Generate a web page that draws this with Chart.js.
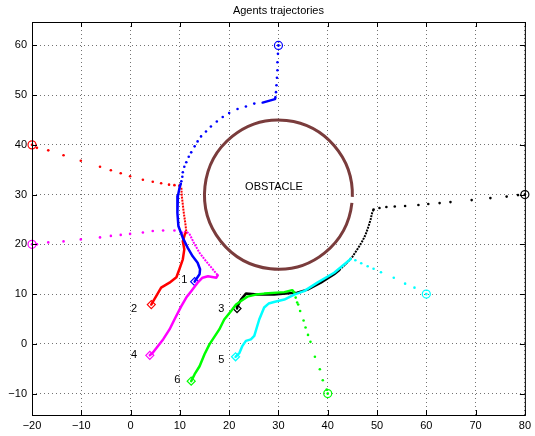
<!DOCTYPE html>
<html>
<head>
<meta charset="utf-8">
<script src="https://cdn.jsdelivr.net/npm/chart.js@4"></script>
<style>
  body { margin: 0; background: #fff; }
  canvas { display: block; }
</style>
</head>
<body>
<canvas id="traj" width="535" height="436"></canvas>
<script>
const xTicks = [-20, -10, 0, 10, 20, 30, 40, 50, 60, 70, 80]
const yTicks = [-10, 0, 10, 20, 30, 40, 50, 60]

const obstacle = { x: 30, y: 30, r: 15 }

// agent labels [x, y, text]
const agentLabels = [[10.9, 12.8, '1'], [0.7, 7.1, '2'], [18.4, 7.1, '3'], [0.7, -2.3, '4'], [18.4, -3.3, '5'], [9.5, -7.3, '6'], [29.1, 31.6, 'OBSTACLE']]

// blue agent (1)
const blueDots = [[30, 60], [29.9, 58.3], [29.8, 56.6], [29.8, 55.0], [29.7, 53.5], [29.6, 52.0], [29.5, 50.6],
  [25.1, 48.3], [23.4, 47.7], [21.7, 47.2], [20.0, 46.4], [18.7, 45.6], [17.5, 44.7], [16.3, 43.7], [15.3, 42.7], [14.3, 41.7],
  [13.6, 40.7], [13.0, 39.7], [12.3, 38.5], [11.8, 37.6], [11.3, 36.5], [10.9, 35.6], [10.6, 34.5], [10.5, 33.6], [10.3, 32.7]]
const blueStep = [[29.4, 49.6], [29.3, 49.2], [26.8, 48.5]]
const bluePath = [[10.2, 32.2], [10.0, 31.7], [9.6, 29.7], [9.5, 26.3], [9.7, 23.7], [10.6, 21.3], [11.6, 19.3], [12.6, 17.6], [13.6, 16.3],
  [14.1, 15.0], [14.0, 14.0], [13.3, 13.0], [13.0, 12.5]]

// red agent (2)
const redDots = [[-20, 40], [-19.0, 39.4], [-16.7, 38.9], [-13.6, 37.9], [-10.1, 36.8], [-6.2, 35.6], [-4.0, 34.9], [-2.0, 34.3], [-0.1, 33.7],
  [2.5, 33.0], [4.5, 32.6], [6.2, 32.3], [7.8, 32.0], [8.9, 31.9], [9.9, 31.8]]
const redDense = [[9.9, 31.8], [10.3, 31.5], [10.4, 29.7], [10.8, 26.3], [11.1, 24.3], [11.3, 22.6]]
const redPath = [[11.2, 22.3], [11.0, 22.0], [10.6, 20.6], [10.9, 19.0], [10.6, 17.0], [9.9, 15.0], [9.3, 13.4], [7.9, 12.3], [6.2, 11.3],
  [5.2, 9.6], [4.6, 8.6], [4.2, 7.9]]

// black agent (3)
const blackDots = [[80, 30], [78.6, 29.9], [76.3, 29.6], [73.0, 29.3], [69.2, 28.9], [64.9, 28.5], [62.7, 28.3], [60.4, 28.1], [58.4, 27.9],
  [55.7, 27.7], [53.6, 27.6], [51.9, 27.5], [50.5, 27.3], [49.3, 27.0]]
const blackDense = [[49.3, 27.0], [49.0, 26.3], [48.7, 25.0], [48.3, 23.7], [47.7, 22.0], [47.0, 20.6], [46.0, 19.0], [45.0, 17.5],
  [43.6, 16.0], [42.3, 14.8]]
const blackPath = [[42.3, 14.8], [41.3, 14.0], [38.6, 12.3], [35.9, 10.9], [33.8, 10.3], [29.1, 9.9], [25.8, 9.9], [23.4, 10.1], [22.4, 8.9],
  [21.7, 7.6], [21.6, 7.1]]

// magenta agent (4)
const magentaDots = [[-20, 20], [-19.0, 20.0], [-16.7, 20.4], [-13.6, 20.6], [-10.1, 21.0], [-6.2, 21.4], [-4.0, 21.7], [-2.0, 21.9],
  [-0.1, 22.1], [2.5, 22.4], [4.5, 22.7], [6.6, 22.8], [8.9, 22.8], [10.3, 22.3]]
const magentaDense = [[10.3, 22.3], [11.3, 22.6], [12.0, 22.0], [13.0, 20.0], [14.0, 18.3], [15.0, 17.0], [16.0, 15.8], [17.0, 14.6], [17.7, 13.8]]
const magentaPath = [[17.7, 13.8], [17.4, 13.3], [15.7, 13.6], [14.6, 13.3], [13.6, 12.3], [12.3, 10.6], [11.3, 9.3], [10.3, 7.6],
  [8.9, 4.9], [7.9, 2.9], [6.6, 0.9], [5.6, -0.4], [4.5, -1.8], [3.9, -2.3]]

// cyan agent (5)
const cyanDots = [[60, 10], [57.6, 11.3], [55.7, 12.1], [53.4, 13.3], [50.8, 14.4], [49.3, 15.1], [48.1, 15.6], [46.8, 16.2], [45.6, 16.8], [44.6, 17.1]]
const cyanPath = [[44.6, 17.0], [41.3, 14.3], [37.9, 12.3], [35.2, 10.6], [33.2, 9.9], [31.2, 8.9], [29.1, 8.4], [28.0, 8.1], [27.1, 7.3],
  [26.1, 4.9], [25.1, 1.6], [24.4, 0.9], [23.4, 0.6], [22.7, -0.4], [22.1, -1.8], [21.3, -2.6]]

// green agent (6)
const greenDots = [[40, -10], [39.8, -9.2], [39.0, -7.3], [38.4, -5.1], [37.4, -2.6], [36.5, 0.4], [36.0, 1.8], [35.5, 3.3], [35.1, 4.7],
  [34.4, 6.6], [34.0, 7.9], [33.8, 8.3], [33.5, 9.3]]
const greenPath = [[33.3, 10.2], [32.8, 10.8], [31.2, 10.4], [27.1, 10.1], [25.4, 9.9], [23.7, 9.5], [22.4, 8.6], [21.4, 7.9], [20.4, 6.6],
  [19.0, 4.9], [18.0, 2.9], [16.0, -0.1], [15.0, -2.1], [14.0, -4.5], [13.0, -6.1], [12.3, -7.5]]

const pts = a => a.map(p => ({ x: p[0], y: p[1] }))

function dots(data, color) {
  return { type: 'scatter', data: pts(data), showLine: false, pointRadius: 1.3, pointBorderWidth: 0,
    pointBackgroundColor: color, pointHoverRadius: 0 }
}
function dense(data, color) {
  return { type: 'line', data: pts(data), borderColor: color, borderWidth: 2, borderDash: [2, 1],
    pointRadius: 0, tension: 0, fill: false }
}
function solid(data, color) {
  return { type: 'line', data: pts(data), borderColor: color, borderWidth: 2.5,
    pointRadius: 0, tension: 0, fill: false, borderJoinStyle: 'round', borderCapStyle: 'round' }
}
function startMark(data, color) {
  return { type: 'scatter', data: pts([data[0], data[0]]), showLine: false, pointStyle: 'circle',
    pointRadius: [4, 1], pointBorderWidth: [1.2, 0], pointBorderColor: color, pointBackgroundColor: ['rgba(0,0,0,0)', color] }
}
function endMark(data, color) {
  return { type: 'scatter', data: pts([data[data.length - 1]]), showLine: false, pointStyle: 'rectRot',
    pointRadius: 4, pointBorderWidth: 1.2, pointBorderColor: color, pointBackgroundColor: 'rgba(0,0,0,0)' }
}

const blue = '#0000ff'
const red = '#ff0000'
const black = '#000000'
const magenta = '#ff00ff'
const cyan = '#00ffff'
const green = '#00ff00'

const obstaclePlugin = {
  id: 'obstacle',
  beforeDatasetsDraw(chart) {
    const { ctx, scales: { x, y } } = chart
    const cx = x.getPixelForValue(obstacle.x)
    const cy = y.getPixelForValue(obstacle.y)
    const rx = x.getPixelForValue(obstacle.x + obstacle.r) - cx
    const ry = cy - y.getPixelForValue(obstacle.y + obstacle.r)
    ctx.save()
    ctx.strokeStyle = 'rgb(122, 60, 60)'
    ctx.lineWidth = 3
    ctx.beginPath()
    ctx.ellipse(cx, cy, rx, ry, 0, 0.11, 0.03 + 2 * Math.PI)
    ctx.stroke()
    ctx.restore()
  },
  afterDatasetsDraw(chart) {
    const { ctx, chartArea: a, scales: { x, y } } = chart
    ctx.save()
    ctx.fillStyle = '#000'
    ctx.font = '11px "Liberation Sans", Arial, sans-serif'
    ctx.textAlign = 'center'
    ctx.textBaseline = 'middle'
    agentLabels.forEach(l => ctx.fillText(l[2], x.getPixelForValue(l[0]), y.getPixelForValue(l[1])))
    // title
    ctx.fillText('Agents trajectories', (a.left + a.right) / 2, 11)
    // box and inward ticks
    ctx.strokeStyle = '#000'
    ctx.lineWidth = 1
    ctx.strokeRect(a.left + 0.5, a.top + 0.5, a.right - a.left, a.bottom - a.top)
    ctx.beginPath()
    xTicks.forEach(v => {
      const px = Math.round(x.getPixelForValue(v)) + 0.5
      ctx.moveTo(px, a.bottom); ctx.lineTo(px, a.bottom - 5)
      ctx.moveTo(px, a.top); ctx.lineTo(px, a.top + 5)
    })
    yTicks.forEach(v => {
      const py = Math.round(y.getPixelForValue(v)) + 0.5
      ctx.moveTo(a.left, py); ctx.lineTo(a.left + 5, py)
      ctx.moveTo(a.right, py); ctx.lineTo(a.right - 5, py)
    })
    ctx.stroke()
    ctx.restore()
  }
}

const tickFont = { family: '"Liberation Sans", Arial, sans-serif', size: 11 }
const minus = v => String(v).replace('-', '\u2212')

new Chart(document.getElementById('traj').getContext('2d'), {
  type: 'scatter',
  data: {
    datasets: [
      dots(blueDots, blue), solid(blueStep, blue), solid(bluePath, blue),
      dots(redDots, red), dense(redDense, red), solid(redPath, red),
      dots(magentaDots, magenta), dense(magentaDense, magenta), solid(magentaPath, magenta),
      dots(cyanDots, cyan), solid(cyanPath, cyan),
      dots(greenDots, green), solid(greenPath, green),
      dots(blackDots, black), dense(blackDense, black), solid(blackPath, black),
      startMark(blueDots, blue), endMark(bluePath, blue),
      startMark(redDots, red), endMark(redPath, red),
      startMark(blackDots, black), endMark(blackPath, black),
      startMark(magentaDots, magenta), endMark(magentaPath, magenta),
      startMark(cyanDots, cyan), endMark(cyanPath, cyan),
      startMark(greenDots, green), endMark(greenPath, green)
    ]
  },
  options: {
    responsive: false,
    animation: false,
    clip: false,
    layout: { padding: { top: 22, right: 8, left: 0, bottom: 0 } },
    plugins: { legend: { display: false }, title: { display: false }, tooltip: { enabled: false } },
    scales: {
      x: {
        type: 'linear', min: -20, max: 80,
        afterBuildTicks: s => { s.ticks = xTicks.map(v => ({ value: v })) },
        afterFit: s => { s.height = 21 },
        grid: { color: 'rgba(0,0,0,0.55)', drawTicks: false },
        border: { display: false, dash: [1, 3] },
        ticks: { font: tickFont, color: '#000', padding: 4, maxRotation: 0, callback: minus }
      },
      y: {
        type: 'linear', min: -14.3, max: 64.7,
        afterBuildTicks: s => { s.ticks = yTicks.map(v => ({ value: v })) },
        afterFit: s => { s.width = 32 },
        grid: { color: 'rgba(0,0,0,0.55)', drawTicks: false },
        border: { display: false, dash: [1, 3] },
        ticks: { font: tickFont, color: '#000', padding: 5, callback: minus }
      }
    }
  },
  plugins: [obstaclePlugin]
})
</script>
</body>
</html>
